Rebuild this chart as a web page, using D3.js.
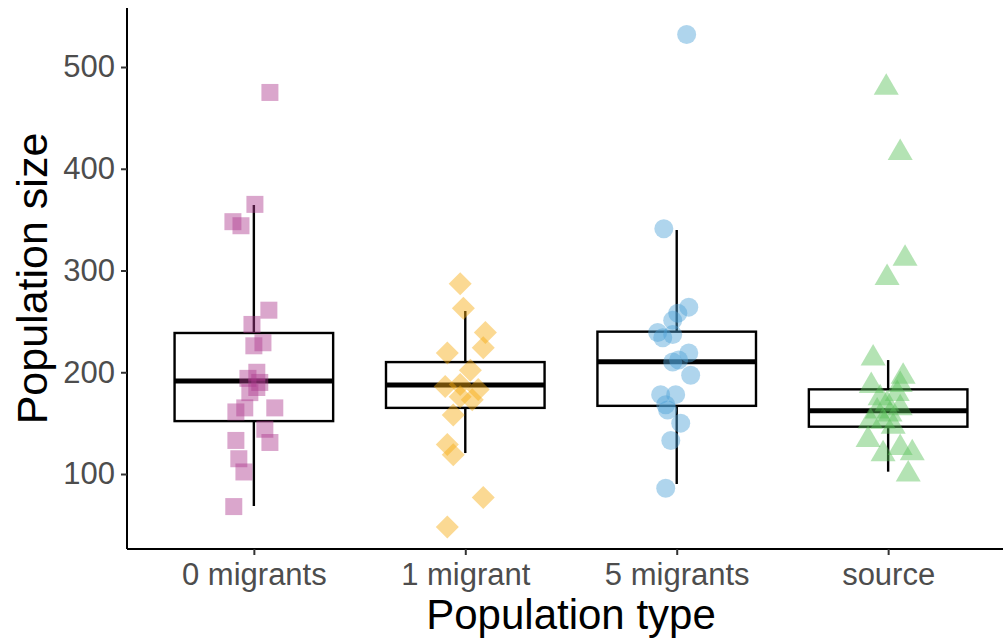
<!DOCTYPE html>
<html>
<head>
<meta charset="utf-8">
<script src="https://cdn.jsdelivr.net/npm/d3@7"></script>
<style>
  html, body { margin: 0; padding: 0; background: #fff; }
  svg { display: block; font-family: "Liberation Sans", Arial, sans-serif; }
</style>
</head>
<body>
<svg id="chart" width="1003" height="640"></svg>
<script>
// categories and colours
const categories = ['0 migrants', '1 migrant', '5 migrants', 'source'];
const colors = ['#ad3a8e', '#f6aa10', '#4ea2d6', '#58c258'];
const shapes = ['square', 'diamond', 'circle', 'triangle'];

// box statistics
const boxLow = [68.6, 120.6, 90.2, 102.3];
const boxQ1 = [152, 165, 167, 146.5];
const boxMedian = [191.4, 187.5, 210.4, 162.2];
const boxQ3 = [238.6, 210, 239.9, 183.2];
const boxHigh = [364.4, 260.2, 339.8, 212];

// individual populations (value, horizontal jitter in category units)
const values0 = [475, 365, 348, 344, 261, 247, 229, 226, 200, 194, 190, 185, 180, 165, 161, 165, 144, 131, 133, 115, 102, 68];
const jitter0 = [0.076, 0.005, -0.099, -0.061, 0.071, -0.009, 0.043, 0, 0.014, -0.028, 0.028, 0.014, -0.019, -0.043, -0.085, 0.099, 0.052, 0.076, -0.085, -0.071, -0.047, -0.095];
const values1 = [287, 263, 239, 224, 219, 202, 186, 188, 183, 176, 173, 158, 129, 119, 77, 48];
const jitter1 = [-0.024, -0.009, 0.095, 0.085, -0.085, 0.024, -0.095, -0.024, 0.061, -0.024, 0.033, -0.057, -0.085, -0.057, 0.085, -0.085];
const values2 = [532, 341, 264, 258, 251, 239, 234, 237, 219, 210, 212, 197, 178, 178, 168, 163, 150, 133, 86];
const jitter2 = [0.047, -0.061, 0.057, 0.005, -0.019, -0.090, -0.066, -0.019, 0.057, -0.019, 0.009, 0.066, -0.076, -0.005, -0.052, -0.043, 0.019, -0.028, -0.052];
const values3 = [481, 417, 313, 294, 215, 197, 188, 189, 176, 170, 180, 163, 160, 166, 153, 153, 148, 135, 121, 127, 122, 101];
const jitter3 = [-0.009, 0.057, 0.080, -0.005, -0.071, 0.071, -0.080, 0.057, -0.038, -0.005, 0.043, -0.052, 0.009, 0.057, -0.024, -0.085, 0.024, -0.095, -0.024, 0.057, 0.114, 0.095];

const yTicks = [100, 200, 300, 400, 500];
const yDomain = [26.3, 558];

const allValues = [values0, values1, values2, values3];
const allJitter = [jitter0, jitter1, jitter2, jitter3];

const svg = d3.select('#chart');
const mLeft = 127, mRight = 1015, mTop = 8, mBottom = 549;

const x = d3.scalePoint().domain(categories).range([mLeft, mRight]).padding(0.6);
const y = d3.scaleLinear().domain(yDomain).range([mBottom, mTop]);
const step = x.step();
const boxW = step * 0.75;

// boxes
const boxes = svg.append('g').attr('class', 'boxes');
categories.forEach((c, i) => {
  const cx = x(c);
  boxes.append('line')
    .attr('x1', cx).attr('x2', cx)
    .attr('y1', y(boxHigh[i])).attr('y2', y(boxLow[i]))
    .attr('stroke', '#000').attr('stroke-width', 2.4);
  boxes.append('rect')
    .attr('x', cx - boxW / 2).attr('width', boxW)
    .attr('y', y(boxQ3[i])).attr('height', y(boxQ1[i]) - y(boxQ3[i]))
    .attr('fill', '#fff').attr('stroke', '#000').attr('stroke-width', 2.4);
  boxes.append('line')
    .attr('x1', cx - boxW / 2).attr('x2', cx + boxW / 2)
    .attr('y1', y(boxMedian[i])).attr('y2', y(boxMedian[i]))
    .attr('stroke', '#000').attr('stroke-width', 5);
});

// point shapes
function shapePath(kind) {
  if (kind === 'square') return 'M-8.5,-8.5H8.5V8.5H-8.5Z';
  if (kind === 'diamond') return 'M0,-11.5L11.5,0L0,11.5L-11.5,0Z';
  if (kind === 'triangle') return 'M0,-13L12.5,8.5L-12.5,8.5Z';
  return d3.symbol().type(d3.symbolCircle).size(Math.PI * 9.5 * 9.5)();
}

const pts = svg.append('g').attr('class', 'points');
categories.forEach((c, i) => {
  const data = allValues[i].map((v, k) => ({ v, j: allJitter[i][k] }));
  pts.append('g')
    .selectAll('path')
    .data(data)
    .enter().append('path')
    .attr('d', shapePath(shapes[i]))
    .attr('transform', d => 'translate(' + (x(c) + d.j * step) + ',' + y(d.v) + ')')
    .attr('fill', colors[i])
    .attr('fill-opacity', 0.45);
});

// axes
const yAxis = svg.append('g')
  .attr('transform', 'translate(' + mLeft + ',0)')
  .call(d3.axisLeft(y).tickValues(yTicks).tickSize(6).tickPadding(6));
const xAxis = svg.append('g')
  .attr('transform', 'translate(0,' + mBottom + ')')
  .call(d3.axisBottom(x).tickSize(6).tickPadding(8));

[yAxis, xAxis].forEach(a => {
  a.select('.domain').attr('stroke', '#000').attr('stroke-width', 2);
  a.selectAll('.tick line').attr('stroke', '#333').attr('stroke-width', 2);
  a.selectAll('.tick text')
    .attr('fill', '#4d4d4d')
    .style('font-size', '31px')
    .style('font-family', '"Liberation Sans", Arial, sans-serif');
});
xAxis.select('.domain').attr('d', 'M' + mLeft + ',0H' + mRight);
yAxis.select('.domain').attr('d', 'M0,' + mTop + 'V' + mBottom);

// titles
svg.append('text')
  .attr('x', (mLeft + mRight) / 2).attr('y', 629)
  .attr('text-anchor', 'middle')
  .style('font-size', '42px')
  .attr('fill', '#000')
  .text('Population type');

svg.append('text')
  .attr('transform', 'translate(47,' + ((mTop + mBottom) / 2) + ') rotate(-90)')
  .attr('text-anchor', 'middle')
  .style('font-size', '43px')
  .attr('fill', '#000')
  .text('Population size');
</script>
</body>
</html>
